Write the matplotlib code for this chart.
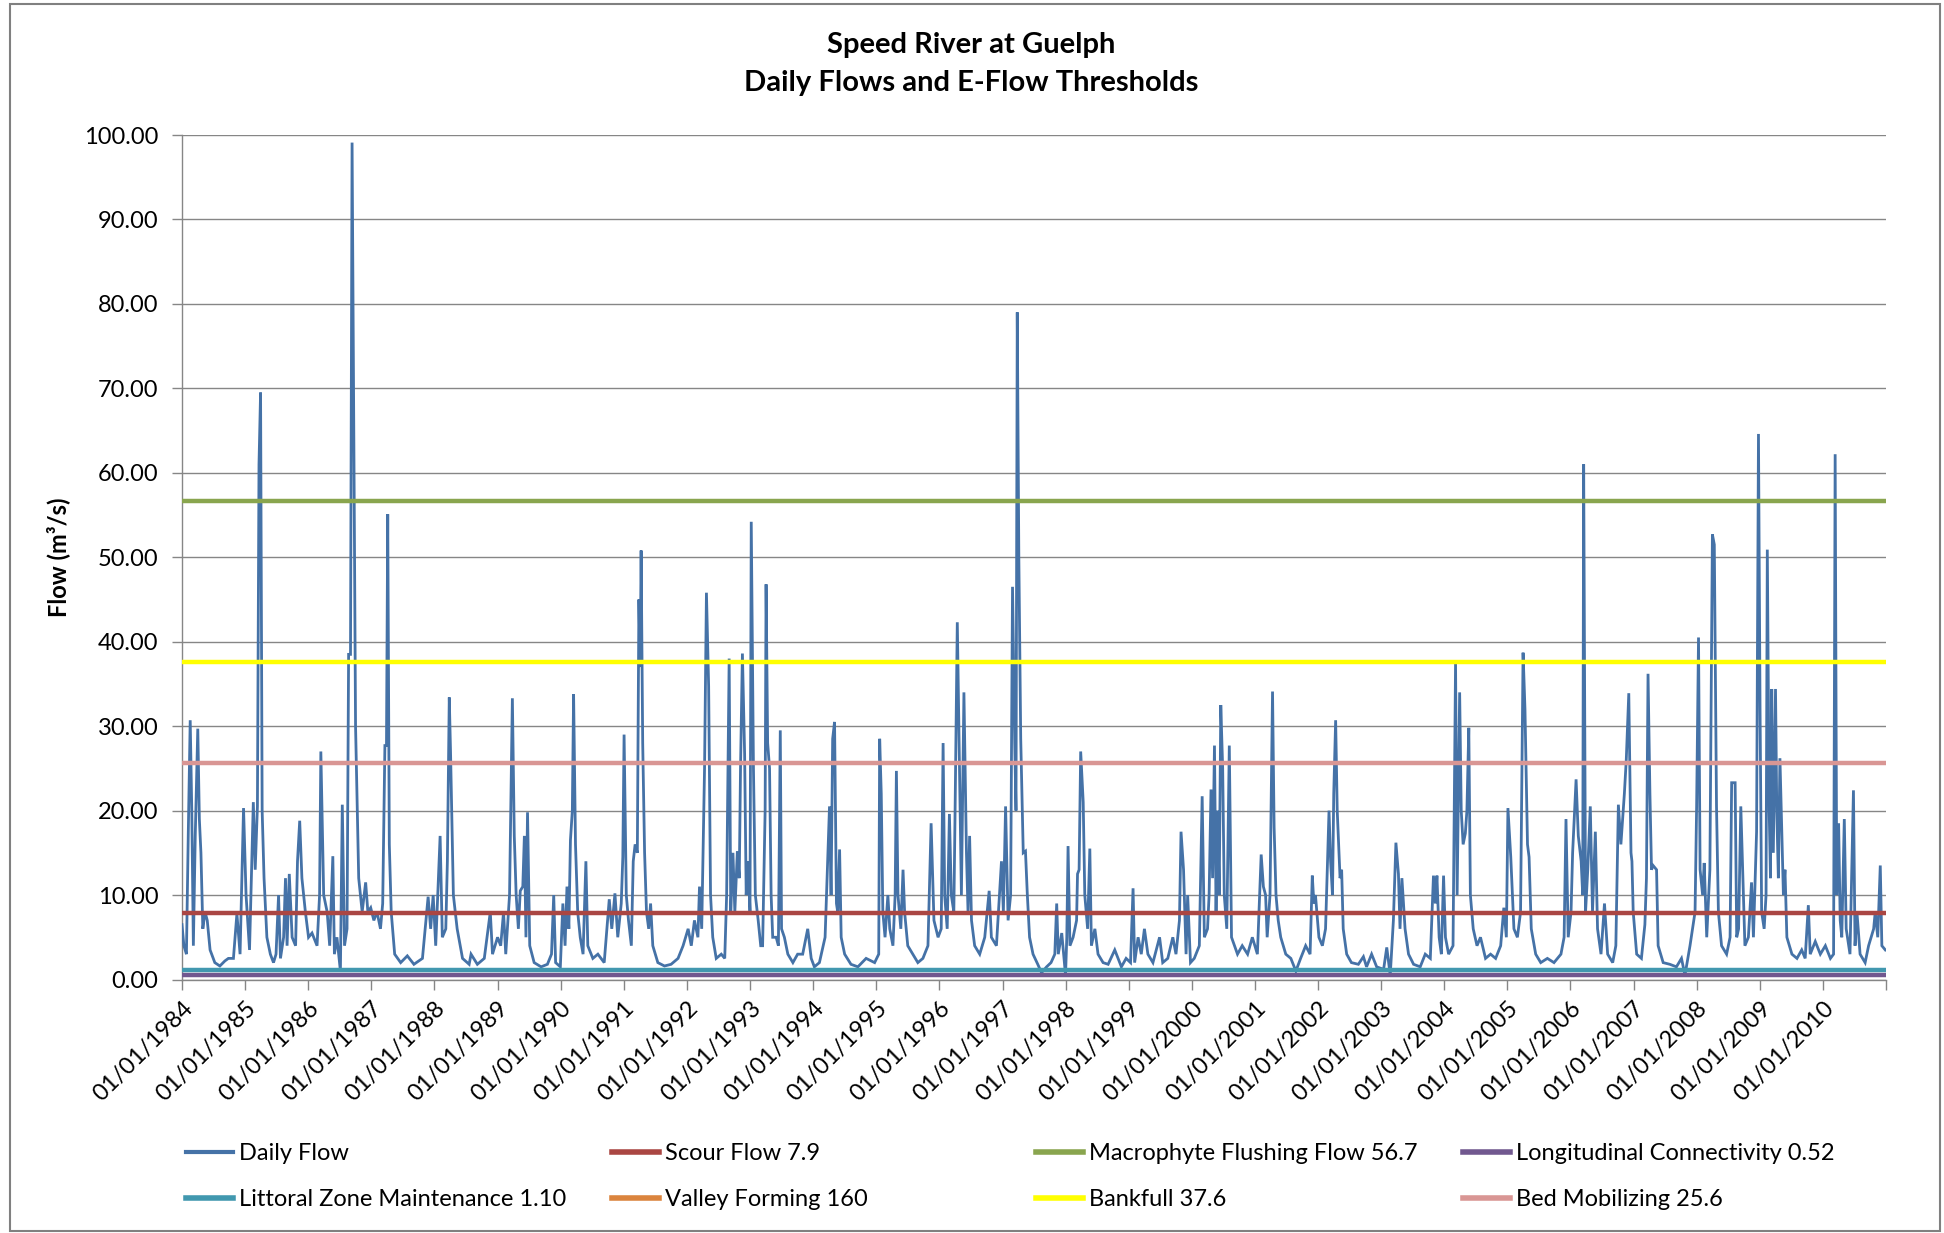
import numpy as np
import pandas as pd
import matplotlib
matplotlib.use("Agg")
import matplotlib.pyplot as plt
from matplotlib.lines import Line2D
from matplotlib.patches import Rectangle

plt.rcParams['font.family'] = ['Lato', 'DejaVu Sans']

# ---------------- data ----------------
flow_year = [
    1984.00, 1984.03, 1984.07, 1984.10, 1984.13, 1984.155, 1984.18, 1984.21, 1984.25, 1984.275,
    1984.30, 1984.33, 1984.365, 1984.40, 1984.445, 1984.52, 1984.60, 1984.68, 1984.735, 1984.815,
    1984.87, 1984.92, 1984.975, 1985.015, 1985.07, 1985.13, 1985.16, 1985.195, 1985.22, 1985.245,
    1985.27, 1985.30, 1985.345, 1985.40, 1985.45, 1985.49, 1985.53, 1985.56, 1985.61, 1985.64,
    1985.665, 1985.70, 1985.745, 1985.80, 1985.83, 1985.865, 1985.90, 1985.955, 1986.005, 1986.06,
    1986.14, 1986.18, 1986.20, 1986.245, 1986.30, 1986.34, 1986.39, 1986.415, 1986.455, 1986.51,
    1986.54, 1986.575, 1986.615, 1986.64, 1986.67, 1986.695, 1986.72, 1986.75, 1986.80, 1986.855,
    1986.91, 1986.945, 1986.99, 1987.04, 1987.09, 1987.145, 1987.18, 1987.215, 1987.24, 1987.26,
    1987.285, 1987.315, 1987.37, 1987.465, 1987.57, 1987.675, 1987.81, 1987.90, 1987.94, 1987.98,
    1988.02, 1988.09, 1988.125, 1988.18, 1988.205, 1988.235, 1988.255, 1988.30, 1988.36, 1988.445,
    1988.55, 1988.58, 1988.68, 1988.79, 1988.885, 1988.92, 1989.00, 1989.05, 1989.095, 1989.13,
    1989.19, 1989.21, 1989.235, 1989.265, 1989.295, 1989.33, 1989.36, 1989.40, 1989.425, 1989.45,
    1989.475, 1989.51, 1989.58, 1989.69, 1989.79, 1989.855, 1989.89, 1989.92, 1989.995, 1990.035,
    1990.07, 1990.10, 1990.13, 1990.155, 1990.185, 1990.205, 1990.235, 1990.27, 1990.31, 1990.355,
    1990.40, 1990.43, 1990.51, 1990.59, 1990.69, 1990.77, 1990.81, 1990.86, 1990.905, 1990.96,
    1990.985, 1991.005, 1991.04, 1991.075, 1991.12, 1991.15, 1991.18, 1991.215, 1991.24, 1991.26,
    1991.275, 1991.30, 1991.33, 1991.36, 1991.395, 1991.425, 1991.46, 1991.54, 1991.645, 1991.75,
    1991.86, 1991.94, 1992.02, 1992.07, 1992.12, 1992.175, 1992.20, 1992.235, 1992.28, 1992.31,
    1992.345, 1992.375, 1992.41, 1992.465, 1992.545, 1992.60, 1992.63, 1992.67, 1992.695, 1992.73,
    1992.76, 1992.80, 1992.83, 1992.85, 1992.88, 1992.915, 1992.94, 1992.97, 1993.00, 1993.02,
    1993.055, 1993.085, 1993.13, 1993.17, 1993.20, 1993.24, 1993.255, 1993.28, 1993.31, 1993.335,
    1993.36, 1993.415, 1993.45, 1993.48, 1993.50, 1993.545, 1993.60, 1993.68, 1993.755, 1993.835,
    1993.915, 1993.97, 1994.02, 1994.10, 1994.19, 1994.235, 1994.26, 1994.285, 1994.31, 1994.34,
    1994.37, 1994.39, 1994.42, 1994.445, 1994.50, 1994.60, 1994.71, 1994.84, 1994.975, 1995.04,
    1995.055, 1995.08, 1995.105, 1995.14, 1995.185, 1995.215, 1995.265, 1995.30, 1995.32, 1995.345,
    1995.39, 1995.425, 1995.45, 1995.50, 1995.58, 1995.66, 1995.74, 1995.82, 1995.87, 1995.915,
    1995.98, 1996.03, 1996.06, 1996.085, 1996.125, 1996.16, 1996.19, 1996.23, 1996.25, 1996.285,
    1996.32, 1996.35, 1996.39, 1996.43, 1996.455, 1996.48, 1996.51, 1996.56, 1996.64, 1996.72,
    1996.79, 1996.825, 1996.905, 1996.985, 1997.015, 1997.05, 1997.09, 1997.13, 1997.16, 1997.195,
    1997.215, 1997.235, 1997.26, 1997.29, 1997.33, 1997.365, 1997.395, 1997.43, 1997.485, 1997.56,
    1997.62, 1997.70, 1997.77, 1997.83, 1997.86, 1997.885, 1997.94, 1998.00, 1998.02, 1998.04,
    1998.07, 1998.12, 1998.175, 1998.19, 1998.215, 1998.24, 1998.28, 1998.305, 1998.35, 1998.385,
    1998.41, 1998.465, 1998.515, 1998.595, 1998.675, 1998.78, 1998.885, 1998.96, 1999.03, 1999.07,
    1999.095, 1999.15, 1999.20, 1999.25, 1999.305, 1999.385, 1999.49, 1999.54, 1999.62, 1999.70,
    1999.75, 1999.805, 1999.83, 1999.87, 1999.91, 1999.935, 1999.98, 2000.04, 2000.12, 2000.165,
    2000.20, 2000.25, 2000.275, 2000.305, 2000.33, 2000.36, 2000.385, 2000.41, 2000.435, 2000.46,
    2000.49, 2000.515, 2000.555, 2000.595, 2000.63, 2000.725, 2000.80, 2000.885, 2000.96, 2001.04,
    2001.10, 2001.135, 2001.17, 2001.195, 2001.24, 2001.28, 2001.305, 2001.335, 2001.37, 2001.41,
    2001.49, 2001.57, 2001.65, 2001.725, 2001.805, 2001.875, 2001.91, 2001.935, 2001.96, 2002.015,
    2002.07, 2002.12, 2002.175, 2002.20, 2002.23, 2002.25, 2002.28, 2002.305, 2002.35, 2002.375,
    2002.40, 2002.455, 2002.53, 2002.64, 2002.72, 2002.77, 2002.85, 2002.93, 2003.04, 2003.09,
    2003.145, 2003.195, 2003.235, 2003.275, 2003.30, 2003.33, 2003.38, 2003.435, 2003.515, 2003.62,
    2003.70, 2003.78, 2003.83, 2003.86, 2003.885, 2003.92, 2003.955, 2003.99, 2004.02, 2004.07,
    2004.14, 2004.18, 2004.205, 2004.245, 2004.27, 2004.30, 2004.335, 2004.36, 2004.39, 2004.415,
    2004.46, 2004.52, 2004.575, 2004.655, 2004.735, 2004.815, 2004.895, 2004.945, 2004.985, 2005.01,
    2005.055, 2005.105, 2005.16, 2005.21, 2005.25, 2005.28, 2005.32, 2005.345, 2005.38, 2005.45,
    2005.53, 2005.635, 2005.74, 2005.85, 2005.90, 2005.93, 2005.965, 2006.01, 2006.035, 2006.09,
    2006.125, 2006.17, 2006.195, 2006.21, 2006.24, 2006.275, 2006.315, 2006.35, 2006.395, 2006.43,
    2006.485, 2006.54, 2006.59, 2006.67, 2006.72, 2006.76, 2006.80, 2006.855, 2006.885, 2006.925,
    2006.96, 2006.975, 2006.995, 2007.05, 2007.125, 2007.18, 2007.205, 2007.23, 2007.26, 2007.285,
    2007.31, 2007.365, 2007.39, 2007.47, 2007.575, 2007.68, 2007.76, 2007.815, 2007.895, 2007.975,
    2008.00, 2008.03, 2008.055, 2008.095, 2008.12, 2008.16, 2008.21, 2008.25, 2008.28, 2008.315,
    2008.345, 2008.395, 2008.475, 2008.53, 2008.555, 2008.61, 2008.635, 2008.665, 2008.70, 2008.73,
    2008.765, 2008.82, 2008.87, 2008.90, 2008.95, 2008.98, 2009.005, 2009.03, 2009.07, 2009.10,
    2009.12, 2009.15, 2009.17, 2009.19, 2009.215, 2009.25, 2009.27, 2009.295, 2009.32, 2009.35,
    2009.375, 2009.40, 2009.43, 2009.51, 2009.59, 2009.665, 2009.72, 2009.77, 2009.80, 2009.88,
    2009.96, 2010.04, 2010.12, 2010.17, 2010.195, 2010.22, 2010.25, 2010.275, 2010.30, 2010.34,
    2010.37, 2010.43, 2010.485, 2010.51, 2010.54, 2010.59, 2010.67, 2010.725, 2010.805, 2010.83,
    2010.87, 2010.91, 2010.935, 2010.99,
]
flow_value = [
    6.5, 4, 3, 17.5, 30.7, 20, 4, 17, 29.7, 19,
    15, 6, 8, 7, 3.5, 2, 1.6, 2.2, 2.5, 2.5,
    7.8, 3, 20.3, 10, 3.5, 21, 13, 20.5, 61, 69.5,
    20, 12, 5, 3, 2, 3, 10, 2.5, 5, 12,
    4, 12.5, 5, 4, 14, 18.8, 12, 8, 5, 5.5,
    4, 10, 27, 10, 8, 4, 14.6, 3, 5, 1,
    20.7, 4, 6, 38.5, 38.5, 99.1, 66.8, 30, 12, 8,
    11.5, 8, 8.5, 7, 8, 6, 9, 27.7, 27.7, 55.1,
    16, 8, 3, 2, 2.8, 1.8, 2.5, 9.8, 6, 10,
    4, 17, 5, 6, 14, 33.4, 27, 10, 6, 2.5,
    1.8, 3, 1.8, 2.5, 8, 3, 5, 4, 8, 3,
    10, 20, 33.3, 17, 10, 6, 10.5, 11, 17, 5,
    19.8, 4, 2, 1.5, 1.8, 3, 10, 2, 1.5, 9,
    4, 11, 6, 16.5, 20, 33.8, 16, 8, 5, 3,
    14, 4, 2.5, 3, 2, 9.5, 6, 10.2, 5, 9,
    14.5, 29, 10, 7, 4, 14, 16, 15, 45, 37,
    50.8, 28, 15, 8, 6, 9, 4, 2, 1.6, 1.8,
    2.5, 4, 6, 4, 7, 5, 11, 6, 25, 45.8,
    34.7, 10, 5, 2.5, 3, 2.5, 10, 38, 8, 15,
    8, 15.2, 12, 25, 38.6, 26.7, 10, 14, 8, 54.2,
    25, 10, 7, 4, 4, 20, 46.8, 28, 25, 10,
    5, 5, 4, 29.5, 6, 5, 3, 2, 3, 3,
    6, 2.5, 1.5, 2, 5, 15, 20.5, 10, 28.5, 30.5,
    9, 8, 15.4, 5, 3, 1.8, 1.5, 2.5, 2, 3,
    28.5, 22, 8, 5, 10, 6, 4, 10, 24.7, 10,
    6, 13, 8, 4, 3, 2, 2.5, 4, 18.5, 7,
    5, 6, 28, 10, 6, 19.6, 10, 8, 20, 42.3,
    25, 10, 34, 15, 8, 17, 7, 4, 3, 5,
    10.5, 5, 4, 14, 8, 20.5, 7, 10, 46.5, 28,
    20, 79, 50, 28.5, 15, 15.2, 10, 5, 3, 1.8,
    0.8, 1.5, 2, 3, 9, 3, 5.5, 0.5, 5, 15.8,
    4, 5, 7, 12.5, 13, 27, 21, 10, 6, 15.5,
    4, 6, 3, 2, 1.8, 3.5, 1.5, 2.5, 2, 10.8,
    2, 5, 3, 6, 3, 2, 5, 2, 2.5, 5,
    3, 7, 17.5, 13, 3, 10, 2, 2.5, 4, 21.7,
    5, 6, 10, 22.5, 12, 27.7, 8, 20, 10, 32.5,
    25, 10, 6, 27.7, 5, 3, 4, 3, 5, 3,
    14.8, 11, 10, 5, 10, 34.1, 18, 10, 7, 5,
    3, 2.5, 1, 2.5, 4, 3, 12.3, 9, 10, 5,
    4, 6, 20, 14, 10, 22, 30.7, 20, 12, 13,
    6, 3, 2, 1.8, 2.7, 1.5, 3, 1.5, 1.2, 3.8,
    0.5, 7, 16.2, 12.5, 6, 12, 6, 3, 1.8, 1.5,
    3, 2.5, 12.3, 9, 12.3, 5, 3, 12.3, 5, 3,
    4, 37.5, 10, 34, 20, 16, 17.3, 20, 29.8, 10,
    6, 4, 5, 2.5, 3, 2.5, 4, 8.5, 5, 20.3,
    14.5, 6, 5, 8, 38.7, 32, 16, 14.5, 6, 3,
    2, 2.5, 2, 3, 5, 19, 5, 8, 15, 23.7,
    17, 14, 10, 61, 8, 13, 20.5, 8, 17.5, 6,
    3, 9, 3, 2, 4, 20.7, 16, 22, 26, 33.9,
    15, 14, 8, 3, 2.5, 6.5, 12, 36.2, 22, 13,
    13.5, 13, 4, 2, 1.8, 1.5, 2.5, 0.5, 4, 8,
    20.5, 40.5, 13, 10, 13.8, 5, 13, 52.7, 51.5, 20.5,
    8, 4, 3, 5, 23.3, 23.3, 5, 6, 20.5, 13,
    4, 5, 11.5, 5, 17.5, 64.6, 32, 8, 6, 10,
    50.9, 20, 12, 34.4, 15, 34.4, 20, 12, 26.2, 17.5,
    10, 13, 5, 3, 2.5, 3.5, 2.5, 8.8, 3, 4.5,
    3, 4, 2.5, 3, 62.2, 10, 18.5, 7, 5, 19,
    6, 3, 22.4, 4, 8, 3, 2, 4, 6, 8,
    5, 13.5, 4, 3.5,
]

threshold_labels = ["Scour Flow 7.9", "Macrophyte Flushing Flow 56.7",
                    "Longitudinal Connectivity 0.52", "Littoral Zone Maintenance 1.10",
                    "Valley Forming 160", "Bankfull 37.6", "Bed Mobilizing 25.6"]
threshold_values = [7.9, 56.7, 0.52, 1.10, 160, 37.6, 25.6]
threshold_colors = ["#AA4643", "#89A54E", "#71588F", "#4198AF", "#DB843D", "#FFFF00", "#D99694"]

year_ticks = list(range(1984, 2012))
y_ticks = [0, 10, 20, 30, 40, 50, 60, 70, 80, 90, 100]

# ---------------- figure ----------------
W, H = 1944, 1233
fig = plt.figure(figsize=(W / 100, H / 100), dpi=100)
fig.patch.set_facecolor("white")

ax = fig.add_axes([182 / W, 1 - 979.5 / H, (1886 - 182) / W, (979.5 - 135) / H])

dates = pd.Timestamp("1984-01-01") + pd.to_timedelta(
    (np.array(flow_year) - 1984.0) * 365.25, unit="D")

flow_color = "#4572A7"
ax.plot(dates, flow_value, color=flow_color, lw=2.0, zorder=3, solid_joinstyle="miter")

handles = {"Daily Flow": Line2D([], [], color=flow_color, lw=3)}
for lab, val, col in zip(threshold_labels, threshold_values, threshold_colors):
    ax.axhline(val, color=col, lw=3.2, zorder=4)
    handles[lab] = Line2D([], [], color=col, lw=4)

ax.set_ylim(0, 100)
ax.set_xlim(pd.Timestamp("1984-01-01"), pd.Timestamp("2011-01-01"))
ax.set_yticks(y_ticks)
ax.set_yticklabels([f"{v:.2f}" for v in y_ticks])
xt = [pd.Timestamp(f"{y}-01-01") for y in year_ticks]
ax.set_xticks(xt)
ax.set_xticklabels([f"01/01/{y}" if y < 2011 else "" for y in year_ticks],
                   rotation=45, ha="right", rotation_mode="anchor")

ax.grid(axis="y", color="#868686", lw=1.0, zorder=0)
ax.set_axisbelow(True)
for s in ["top", "right"]:
    ax.spines[s].set_visible(False)
for s in ["left", "bottom"]:
    ax.spines[s].set_color("#868686")
    ax.spines[s].set_linewidth(1.0)
ax.tick_params(axis="both", colors="#868686", labelcolor="black", labelsize=17,
               direction="out", length=7, width=1)
ax.tick_params(axis="x", pad=6)
ax.tick_params(axis="y", pad=10)

fig.text(58 / W, 1 - 557 / H, "Flow (m³/s)", rotation=90, ha="center", va="center",
         fontsize=17, fontweight="bold")

fig.text(971 / W, 1 - 45 / H, "Speed River at Guelph", ha="center", va="center",
         fontsize=21, fontweight="bold")
fig.text(971 / W, 1 - 83 / H, "Daily Flows and E-Flow Thresholds", ha="center", va="center",
         fontsize=21, fontweight="bold")

# legend: 4 columns x 2 rows
columns = [["Daily Flow", "Littoral Zone Maintenance 1.10"],
           ["Scour Flow 7.9", "Valley Forming 160"],
           ["Macrophyte Flushing Flow 56.7", "Bankfull 37.6"],
           ["Longitudinal Connectivity 0.52", "Bed Mobilizing 25.6"]]
col_x = [186, 612, 1036, 1463]
for cx, labs in zip(col_x, columns):
    fig.legend([handles[l] for l in labs], labs, loc="upper left",
               bbox_to_anchor=(cx / W, 1 - 1143 / H), frameon=False,
               fontsize=17, handlelength=2.0, handletextpad=0.25,
               borderaxespad=0, borderpad=0, labelspacing=1.05)

# outer chart border
fig.add_artist(Rectangle((10 / W, 2 / H), (W - 14) / W, (H - 6) / H, transform=fig.transFigure,
                         fill=False, edgecolor="#808080", lw=1.5))

fig.savefig("out.png", dpi=100, facecolor="white")
